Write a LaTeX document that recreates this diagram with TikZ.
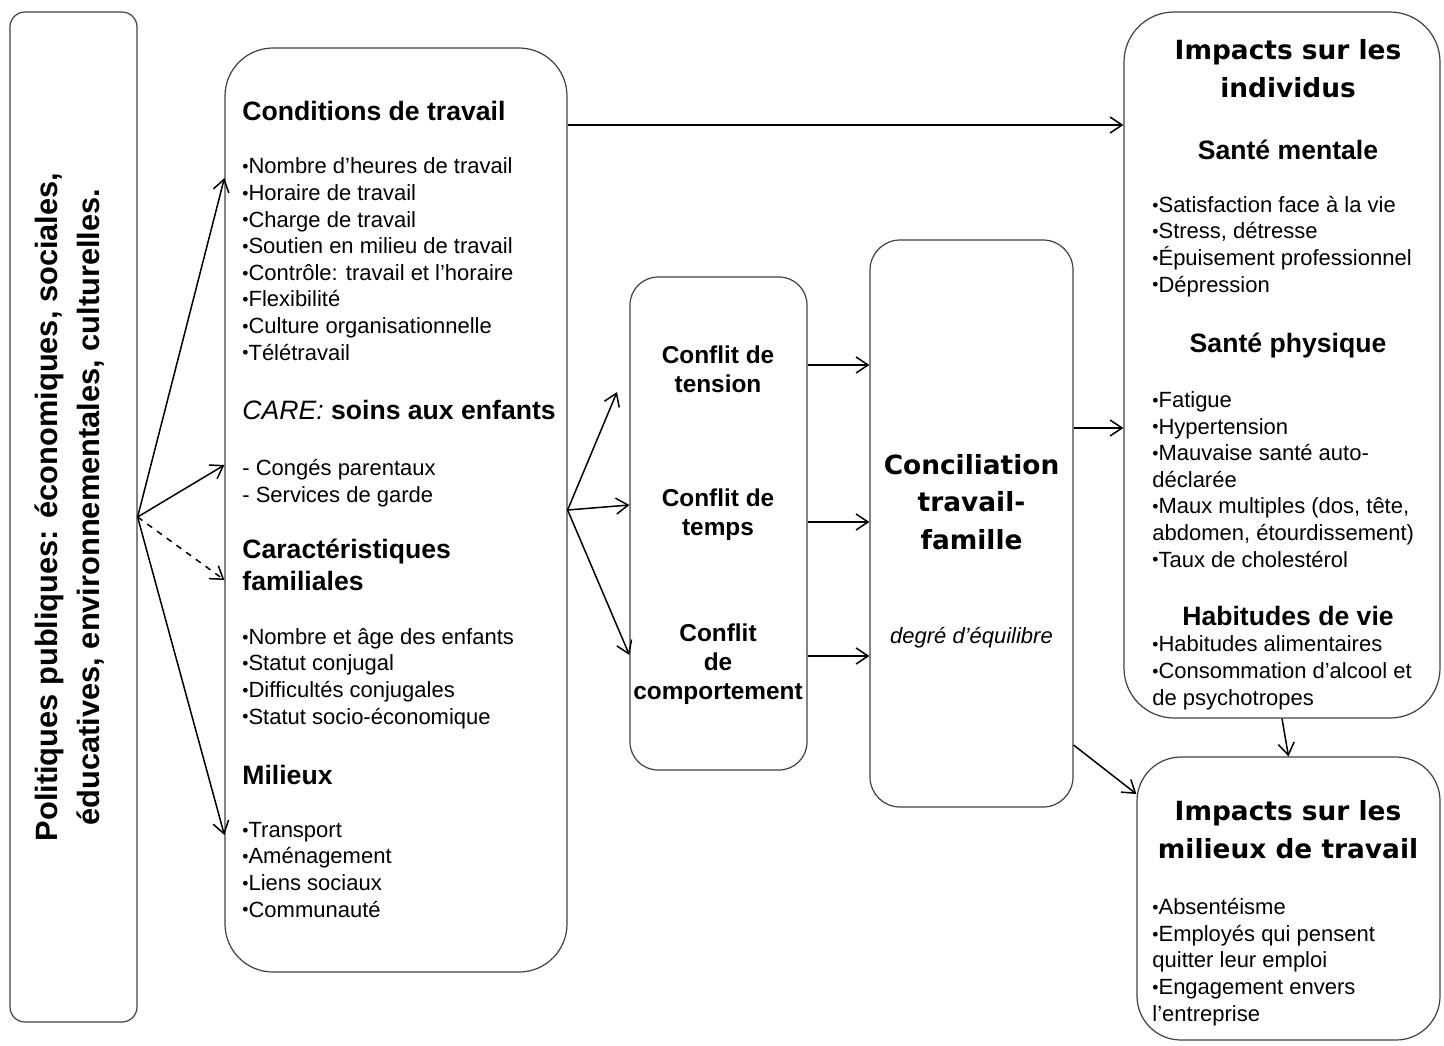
\documentclass[tikz,border=0pt]{standalone}
\usepackage{fontspec}
\setmainfont{Liberation Sans}
\newfontfamily\verd{DejaVu Sans}
\usetikzlibrary{arrows.meta}
\newcommand\puce{\raisebox{.1ex}{\scalebox{.8}{•}}}

\begin{document}
\begin{tikzpicture}[x=0.5pt,y=-0.5pt,>={Straight Barb[length=6pt,width=8pt]},
 box/.style={draw=black!75,line width=0.6pt,rectangle,inner sep=0},
 lst/.style={anchor=base west,align=left,inner sep=0,font=\fontsize{11}{13.3}\selectfont},
 hd/.style={anchor=base west,align=left,inner sep=0,font=\fontsize{13.3}{16}\selectfont\bfseries},
 hdc/.style={hd,anchor=base,align=center},
 cf/.style={anchor=base,align=center,inner sep=0,font=\fontsize{12.2}{14.5}\selectfont\bfseries},
 big/.style={anchor=base,align=center,inner sep=0,font=\fontsize{13.2}{18.6}\selectfont\verd\bfseries},
 fl/.style={->,line width=0.75pt}]
 \useasboundingbox (0,0) rectangle (1444,1045);

 \node[box,minimum width=63.5pt,minimum height=505pt,rounded corners=7.5pt] (pol) at (73.5,517) {};
 \node[box,minimum width=171pt,minimum height=462pt,rounded corners=24pt] (facteurs) at (396,510) {};
 \node[box,minimum width=88.5pt,minimum height=246.5pt,rounded corners=14pt] (conflits) at (718.5,523.5) {};
 \node[box,minimum width=101.5pt,minimum height=283.5pt,rounded corners=15pt] (concil) at (971.5,523.5) {};
 \node[box,minimum width=158pt,minimum height=353pt,rounded corners=25pt] (indiv) at (1282,365) {};
 \node[box,minimum width=151.5pt,minimum height=141.5pt,rounded corners=22pt] (travail) at (1288.5,898.5) {};

 \node[rotate=90,align=center,inner sep=0,font=\fontsize{15.4}{21}\selectfont\bfseries] (polt) at (70,507)
  {Politiques publiques: économiques, sociales,\\éducatives, environnementales, culturelles.};

 % multi-line nodes: base = last line
 \node[hd] (condh) at (242,120) {Conditions de travail};
 \node[lst] (condl) at (242,360) {\puce Nombre d'heures de travail\\\puce Horaire de travail\\\puce Charge de travail\\
  \puce Soutien en milieu de travail\\\puce Contrôle: travail et l'horaire\\\puce Flexibilité\\
  \puce Culture organisationnelle\\\puce Télétravail};
 \node[hd] (careh) at (242,419) {{\mdseries\itshape CARE:} soins aux enfants};
 \node[lst] (carel) at (242,502) {- Congés parentaux\\- Services de garde};
 \node[hd] (carach) at (242,590) {Caractéristiques\\familiales};
 \node[lst] (caracl) at (242,724) {\puce Nombre et âge des enfants\\\puce Statut conjugal\\\puce Difficultés conjugales\\
  \puce Statut socio-économique};
 \node[hd] (milh) at (242,784) {Milieux};
 \node[lst] (mill) at (242,917) {\puce Transport\\\puce Aménagement\\\puce Liens sociaux\\\puce Communauté};

 \node[cf] (tens) at (718,392) {Conflit de\\tension};
 \node[cf] (temps) at (718,535) {Conflit de\\temps};
 \node[cf] (comp) at (718,699) {Conflit\\de\\comportement};

 \node[big] (concilh) at (971.5,549) {Conciliation\\travail-\\famille};
 \node[lst,anchor=base,font=\fontsize{11}{13.3}\selectfont\itshape] (degre) at (971.5,643) {degré d'équilibre};

 \node[big] (indivh) at (1288,97) {Impacts sur les\\individus};
 \node[hdc] (mentaleh) at (1288,159) {Santé mentale};
 \node[lst] (mentalel) at (1152,292) {\puce Satisfaction face à la vie\\\puce Stress, détresse\\
  \puce Épuisement professionnel\\\puce Dépression};
 \node[hdc] (physh) at (1288,352) {Santé physique};
 \node[lst] (physl) at (1152,567) {\puce Fatigue\\\puce Hypertension\\\puce Mauvaise santé auto-\\déclarée\\
  \puce Maux multiples (dos, tête,\\abdomen, étourdissement)\\\puce Taux de cholestérol};
 \node[hdc] (habh) at (1288,625) {Habitudes de vie};
 \node[lst] (habl) at (1152,705) {\puce Habitudes alimentaires\\\puce Consommation d’alcool et\\de psychotropes};

 \node[big] (travh) at (1288,858) {Impacts sur les\\milieux de travail};
 \node[lst] (travl) at (1152,1021) {\puce Absentéisme\\\puce Employés qui pensent\\quitter leur emploi\\
  \puce Engagement envers\\l’entreprise};

 \draw[fl] (pol.east) -- (facteurs.west |- 0,178);
 \draw[fl] (pol.east) -- (facteurs.west |- 0,465);
 \draw[fl,dashed] (pol.east) -- (facteurs.west |- 0,580);
 \draw[fl] (pol.east) -- (facteurs.west |- 0,835);

 \coordinate (c1) at (617,392);
 \draw[fl] (facteurs.east) -- (c1);
 \draw[fl] (facteurs.east) -- (conflits.west |- 0,505);
 \draw[fl] (facteurs.east) -- (conflits.west |- 0,655);

 \draw[fl] (facteurs.east |- 0,125) -- (indiv.west |- 0,125);
 \draw[fl] (conflits.east |- 0,365) -- (concil.west |- 0,365);
 \draw[fl] (conflits.east |- 0,522) -- (concil.west |- 0,522);
 \draw[fl] (conflits.east |- 0,656) -- (concil.west |- 0,656);
 \draw[fl] (concil.east |- 0,428) -- (indiv.west |- 0,428);
 \draw[fl] (concil.east |- 0,745) -- (travail.west |- 0,794);
 \draw[fl] (indiv.south) -- (travail.north);
\end{tikzpicture}
\end{document}
